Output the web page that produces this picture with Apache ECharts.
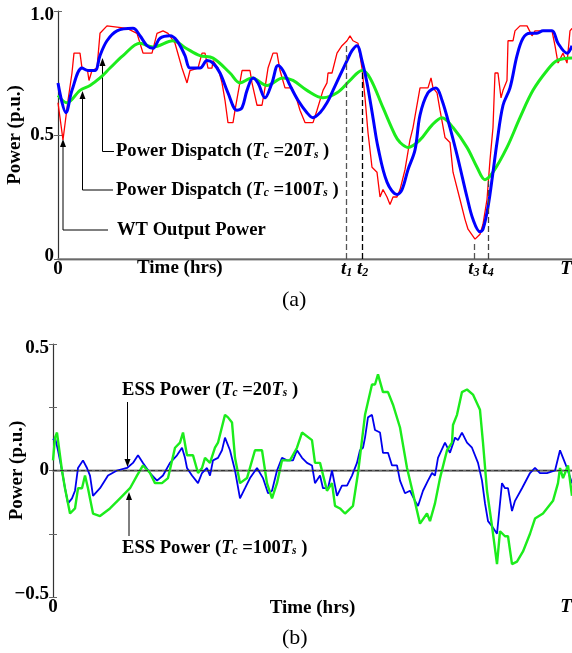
<!DOCTYPE html>
<html>
<head>
<meta charset="utf-8">
<script src="https://cdn.jsdelivr.net/npm/echarts@6/dist/echarts.min.js"></script>
<style>
  html, body { margin: 0; padding: 0; background: #fff; }
  #chart { width: 572px; height: 653px; }
</style>
</head>
<body>
<div id="chart"></div>
<script>
// panel (a): WT output power and the two dispatch curves (time in % of T)
const wtTime = [0, 0.97, 1.95, 2.72, 3.11, 4.28, 4.67, 5.74, 6.03, 6.61,
  7.59, 8.17, 9.53, 13.42, 15.37, 16.54, 18.29, 19.26, 20.43, 21.4,
  22.76, 24.12, 25.1, 25.68, 27.24, 28.02, 28.6, 29.18, 29.96, 30.16,
  31.13, 31.91, 32.49, 33.07, 34.05, 34.44, 35.8, 37.35, 37.74, 38.72,
  39.69, 40.27, 40.86, 41.83, 42.61, 43.19, 44.16, 45.53, 46.5, 47.08,
  48.05, 49.61, 50.39, 51.56, 52.33, 52.53, 53.31, 54.28, 55.25, 56.23,
  56.81, 57.39, 58.37, 59.14, 59.73, 60.31, 61.09, 62.06, 62.65, 63.23,
  64.01, 64.59, 65.18, 65.95, 66.54, 67.51, 68.48, 69.07, 70.43, 71.98,
  72.57, 72.96, 73.74, 74.32, 75.29, 76.26, 76.85, 78.21, 79.18, 79.77,
  81.13, 82.1, 82.68, 83.46, 84.05, 84.63, 85.02, 85.6, 86.19, 86.58,
  87.35, 87.55, 88.52, 88.91, 89.88, 91.25, 92.22, 92.8, 94.36, 96.11,
  96.69, 97.28, 98.25, 99.03, 99.61, 100];
const wtPower = [0.63, 0.48, 0.64, 0.75, 0.83, 0.83, 0.77, 0.76, 0.72, 0.76,
  0.77, 0.91, 0.94, 0.93, 0.91, 0.83, 0.83, 0.91, 0.92, 0.91,
  0.87, 0.77, 0.71, 0.76, 0.77, 0.83, 0.83, 0.77, 0.77, 0.80,
  0.77, 0.71, 0.64, 0.55, 0.55, 0.60, 0.76, 0.76, 0.71, 0.62,
  0.62, 0.69, 0.77, 0.83, 0.83, 0.76, 0.69, 0.69, 0.64, 0.60,
  0.55, 0.55, 0.60, 0.68, 0.71, 0.75, 0.75, 0.83, 0.86, 0.88,
  0.90, 0.88, 0.87, 0.77, 0.65, 0.51, 0.37, 0.35, 0.25, 0.28,
  0.25, 0.22, 0.25, 0.25, 0.28, 0.36, 0.48, 0.53, 0.69, 0.69,
  0.73, 0.69, 0.67, 0.60, 0.49, 0.47, 0.35, 0.24, 0.16, 0.12,
  0.08, 0.10, 0.14, 0.24, 0.40, 0.53, 0.75, 0.75, 0.65, 0.68,
  0.72, 0.88, 0.88, 0.92, 0.94, 0.94, 0.90, 0.92, 0.92, 0.92,
  0.86, 0.79, 0.83, 0.79, 0.92, 0.93];

const disp20Time = [0, 1.56, 2.72, 4.67, 5.84, 7.2, 8.17, 9.53, 11.48, 14.59,
  15.95, 17.32, 18.48, 19.84, 21.79, 23.15, 24.71, 25.68, 27.63, 28.99,
  30.16, 31.52, 33.07, 34.82, 35.8, 36.77, 37.94, 38.91, 40.27, 41.63,
  42.8, 43.77, 45.14, 46.69, 48.44, 49.61, 50.97, 52.33, 53.5, 54.86,
  56.23, 57.2, 58.17, 59.14, 60.12, 61.28, 62.26, 64.01, 65.95,
  66.93, 68.09, 69.46, 70.43, 71.98, 73.54, 74.71, 76.26, 77.63, 78.21,
  79.57, 80.74, 82.1, 82.68, 83.66, 84.63, 85.41, 86.58, 87.94, 89.3,
  90.47, 91.83, 93.19, 94.36, 96.11, 97.28, 99.03, 100];
const disp20Power = [0.71, 0.59, 0.68, 0.77, 0.76, 0.76, 0.82, 0.88, 0.92, 0.93,
  0.90, 0.86, 0.85, 0.89, 0.90, 0.88, 0.82, 0.77, 0.77, 0.80,
  0.79, 0.75, 0.67, 0.60, 0.61, 0.68, 0.73, 0.71, 0.65, 0.71,
  0.78, 0.76, 0.70, 0.64, 0.59, 0.57, 0.59, 0.63, 0.68, 0.74,
  0.80, 0.84, 0.86, 0.80, 0.71, 0.57, 0.45, 0.31, 0.26,
  0.28, 0.36, 0.44, 0.58, 0.67, 0.69, 0.64, 0.53, 0.42, 0.37,
  0.25, 0.16, 0.11, 0.12, 0.21, 0.35, 0.47, 0.62, 0.69, 0.82,
  0.89, 0.91, 0.91, 0.92, 0.92, 0.87, 0.83, 0.86];

const disp100Time = [0, 1.75, 4.28, 6.23, 8.17, 10.12, 12.65, 15.95, 18.48, 22.37,
  24.9, 27.63, 30.16, 33.46, 35.41, 37.74, 40.66, 43.77, 45.72, 48.44,
  51.56, 54.28, 56.81, 59.14, 60.7, 63.23, 65.56, 66.54, 68.09, 70.43,
  72.76, 74.71, 76.85, 79.57, 81.52, 83.07, 84.63, 87.35, 89.88, 92.41,
  95.14, 97.08, 100];
const disp100Power = [0.66, 0.63, 0.68, 0.70, 0.73, 0.77, 0.82, 0.87, 0.855, 0.88,
  0.85, 0.82, 0.81, 0.75, 0.71, 0.73, 0.70, 0.73, 0.72, 0.68,
  0.65, 0.67, 0.72, 0.76, 0.73, 0.61, 0.50, 0.47, 0.45, 0.48,
  0.54, 0.57, 0.53, 0.45, 0.37, 0.32, 0.35, 0.45, 0.57, 0.68,
  0.76, 0.80, 0.81];

// instants t1..t4 and how high their dashed guides reach
const tMarkTimes = [56.17, 59.28, 80.93, 83.66];
const tMarkTops = [0.87, 0.75, 0.07, 0.32];
const tMarkNames = ['t1', 't2', 't3', 't4'];
const tMarkColors = ['#555', '#000', '#555', '#444'];

// panel (b): ESS power
const ess20Time = [0, 0.39, 0.96, 1.73, 2.31, 2.89, 3.66, 4.24, 4.82, 5.78,
  6.55, 7.13, 7.71, 9.06, 10.6, 12.33, 14.26, 15.41, 16.38, 17.34,
  18.69, 20.04, 21.19, 22.54, 23.89, 24.86, 25.43, 25.82, 26.78, 27.94,
  28.71, 29.67, 30.25, 30.83, 31.79, 32.56, 33.14, 34.1, 35.07, 36.03,
  37.0, 37.96, 39.31, 40.46, 41.43, 42.2, 43.16, 44.12, 45.09, 46.24,
  47.01, 47.98, 48.94, 49.9, 50.48, 51.45, 52.02, 52.99, 53.76, 54.72,
  55.68, 56.65, 57.61, 58.57, 59.15, 59.73, 60.12, 60.69, 61.46, 62.04,
  63.01, 63.58, 64.55, 65.32, 66.28, 66.86, 67.82, 68.79, 69.75, 70.33,
  71.29, 72.25, 73.03, 73.6, 74.18, 75.53, 76.49, 77.46, 78.03, 78.8,
  79.77, 80.73, 81.89, 82.66, 83.24, 83.82, 84.59, 85.55, 86.51, 87.09,
  87.67, 88.44, 89.02, 90.37, 91.91, 92.87, 93.83, 95.18, 96.73, 97.69,
  98.27, 99.04, 100];
const ess20 = [0.12, 0.13, 0.08, 0.0, -0.07, -0.13, -0.11, -0.08, 0.01, 0.04,
  0.01, -0.02, -0.10, -0.07, -0.02, 0, 0.01, 0.03, 0.06, 0.03,
  -0.01, -0.04, -0.02, 0.03, 0.06, 0.09, 0.05, 0.01, -0.02, -0.05,
  -0.01, 0.01, -0.02, 0.04, 0.05, 0.08, 0.13, 0.08, 0, -0.11,
  -0.07, -0.03, 0.01, -0.03, -0.09, -0.08, 0, 0.05, 0.04, 0.04,
  0.08, 0.05, 0.03, 0.02, -0.05, -0.02, -0.07, -0.07, 0, -0.10,
  -0.06, -0.06, -0.02, 0.03, 0.08, 0.09, 0.13, 0.21, 0.22, 0.16,
  0.15, 0.07, 0.07, 0.02, 0.02, -0.04, -0.09, -0.08, -0.12, -0.14,
  -0.08, -0.04, -0.01, -0.02, 0.05, 0.11, 0.07, 0.13, 0.12, 0.15,
  0.11, 0.09, 0.03, -0.04, -0.13, -0.20, -0.22, -0.25, -0.05, -0.07,
  -0.07, -0.16, -0.12, -0.07, -0.01, 0.01, -0.01, -0.01, 0, 0.08,
  0.05, 0.01, -0.05];

const ess100Time = [0, 0.39, 0.77, 1.73, 2.31, 3.28, 4.24, 4.82, 5.59, 6.17,
  6.74, 7.71, 9.06, 10.98, 12.91, 14.84, 16.18, 17.34, 18.69, 19.65,
  21.0, 22.16, 23.51, 24.47, 25.05, 25.82, 26.98, 27.94, 28.71, 29.29,
  30.25, 31.21, 31.79, 33.14, 33.72, 34.49, 35.07, 36.03, 37.38, 38.92,
  40.27, 41.23, 42.2, 43.16, 44.12, 45.66, 47.01, 47.98, 49.9, 50.48,
  51.45, 52.79, 53.76, 54.34, 55.3, 56.26, 57.8, 58.77, 60.12, 61.46,
  62.04, 62.62, 63.58, 64.55, 65.51, 66.86, 68.21, 69.36, 70.71, 72.06,
  72.64, 73.6, 74.57, 75.92, 76.88, 77.07, 77.84, 78.8, 79.77, 80.92,
  82.27, 82.85, 83.62, 84.59, 85.55, 86.13, 87.09, 87.67, 88.44, 89.4,
  90.56, 91.91, 92.87, 94.41, 96.34, 97.3, 97.69, 98.27, 99.23, 100];
const ess100 = [0.04, 0.13, 0.15, 0.0, -0.07, -0.17, -0.15, -0.07, -0.07, -0.02,
  -0.07, -0.17, -0.18, -0.15, -0.11, -0.07, -0.02, 0.02, -0.01, -0.05,
  -0.05, -0.03, 0.09, 0.11, 0.15, 0.06, 0.06, -0.01, 0.01, 0.05,
  0.03, 0.09, 0.11, 0.22, 0.21, 0.19, 0.05, -0.05, -0.03, 0.08,
  0.08, -0.05, -0.11, -0.05, 0.04, 0.04, 0.09, 0.15, 0.12, 0.03,
  0.03, -0.08, -0.05, -0.14, -0.15, -0.17, -0.14, -0.01, 0.22, 0.34,
  0.34, 0.38, 0.31, 0.31, 0.26, 0.17, 0.01, -0.09, -0.21, -0.17,
  -0.20, -0.13, -0.03, 0.08, 0.11, 0.18, 0.22, 0.31, 0.32, 0.30,
  0.24, 0.11, -0.08, -0.22, -0.37, -0.24, -0.26, -0.26, -0.37, -0.36,
  -0.32, -0.25, -0.19, -0.17, -0.12, -0.05, 0.01, -0.03, 0.02, -0.10];

const xTicksA = [0].concat(tMarkTimes, [100]);
const xNamesA = ['0'].concat(tMarkNames, ['T']);
const xTicksB = [0, 100];
const xNamesB = ['0', 'T'];

const SERIF = '"Liberation Serif", "Times New Roman", serif';
const txt = { fontFamily: SERIF, fontWeight: 'bold', color: '#000' };
const rich = {
  n: Object.assign({}, txt, { fontSize: 19 }),
  i: Object.assign({}, txt, { fontSize: 19, fontStyle: 'italic' }),
  s: Object.assign({}, txt, { fontSize: 12, fontStyle: 'italic', verticalAlign: 'bottom', lineHeight: 10 }),
  top: Object.assign({}, txt, { fontSize: 19, padding: [9, 0, 0, 0] }),
  bot: Object.assign({}, txt, { fontSize: 19, padding: [0, 0, 6, 0] }),
  end: Object.assign({}, txt, { fontSize: 19, fontStyle: 'italic', padding: [0, 12, 0, 0] })
};

function pairs(xs, ys) { return xs.map((x, i) => [x, ys[i]]); }

function xLabel(ticks, names) {
  return function (v) {
    const k = ticks.findIndex(t => Math.abs(t - v) < 1e-6);
    const s = k < 0 ? '' : names[k];
    if (/^t\d$/.test(s)) return '{i|t}{s|' + s[1] + '}';
    if (s === 'T') return '{end|T}';
    return '{n|' + s + '}';
  };
}

function bottomAxis(grid, ticks, names) {
  return {
    type: 'value', gridIndex: grid, min: 0, max: 100, position: 'bottom',
    axisLine: { lineStyle: { color: '#111', width: 1.3 } },
    axisTick: { show: false },
    splitLine: { show: false },
    axisLabel: { customValues: ticks, margin: 1, formatter: xLabel(ticks, names), rich: rich }
  };
}
function topAxis(grid) {
  return {
    type: 'value', gridIndex: grid, min: 0, max: 100, position: 'top',
    axisLine: { lineStyle: { color: '#888', width: 1.5 } },
    axisTick: { show: false }, axisLabel: { show: false }, splitLine: { show: false }
  };
}
function sideAxis(grid, min, max, step, pos, labelFn, name, gap) {
  return {
    type: 'value', gridIndex: grid, min: min, max: max, interval: step, position: pos,
    name: name, nameLocation: 'middle', nameGap: gap, nameMoveOverlap: false,
    nameTextStyle: Object.assign({}, txt, { fontSize: 19 }),
    axisLine: { show: pos === 'left', lineStyle: { color: '#333', width: 1.2 } },
    axisTick: { show: true, inside: true, length: 4, lineStyle: { color: '#666' } },
    splitLine: { show: false },
    axisLabel: { show: !!labelFn, margin: 4, formatter: labelFn, rich: rich }
  };
}

function yLabelA(v) {
  if (v === 1) return '{top|1.0}';
  if (v === 0) return '{bot|0}';
  return '{n|' + v + '}';
}
function yLabelB(v) {
  if (v === 0.5) return '{top|0.5}';
  if (v === -0.5) return '{bot|\u22120.5}';
  if (v === 0) return '{n|0}';
  return '';
}

function arrow(pts, tip, dir) {
  const [x, y] = tip;
  const d = dir === 'up' ? 8 : -8;
  return [
    { type: 'polyline', shape: { points: pts }, style: { stroke: '#000', lineWidth: 1, fill: null }, silent: true },
    { type: 'polygon', shape: { points: [[x, y], [x - 3, y + d], [x + 3, y + d]] }, style: { fill: '#000' }, silent: true }
  ];
}
function note(x, y, str) {
  return { type: 'text', x: x, y: y, silent: true,
    style: { text: str, rich: {
      n: Object.assign({}, txt, { fontSize: 18.6, fill: '#000' }),
      i: Object.assign({}, txt, { fontSize: 18.6, fontStyle: 'italic', fill: '#000' }),
      s: Object.assign({}, txt, { fontSize: 11.5, fontStyle: 'italic', fill: '#000', verticalAlign: 'bottom', lineHeight: 9 })
    }, verticalAlign: 'middle' } };
}

const chart = echarts.init(document.getElementById('chart'));
chart.setOption({
  animation: false,
  backgroundColor: '#fff',
  title: [
    { text: '(a)', left: 277, top: 284, textStyle: { fontFamily: SERIF, fontWeight: 'normal', fontSize: 22, color: '#000' } },
    { text: '(b)', left: 277, top: 622, textStyle: { fontFamily: SERIF, fontWeight: 'normal', fontSize: 22, color: '#000' } }
  ],
  grid: [
    { left: 58, top: 11, right: 0, height: 248, containLabel: false, outerBoundsMode: 'none' },
    { left: 53, top: 344, right: 0, height: 253, containLabel: false, outerBoundsMode: 'none' }
  ],
  xAxis: [
    bottomAxis(0, xTicksA, xNamesA),
    topAxis(0),
    Object.assign(bottomAxis(1, xTicksB, xNamesB), {
      name: 'Time (hrs)', nameLocation: 'middle', nameGap: 2, nameMoveOverlap: false,
      nameTextStyle: Object.assign({}, txt, { fontSize: 19, verticalAlign: 'top' })
    }),
    topAxis(1)
  ],
  yAxis: [
    sideAxis(0, 0, 1, 0.5, 'left', yLabelA, 'Power (p.u.)', 33),
    sideAxis(0, 0, 1, 0.5, 'right', null, '', 0),
    sideAxis(1, -0.5, 0.5, 0.25, 'left', yLabelB, 'Power (p.u.)', 26),
    sideAxis(1, -0.5, 0.5, 0.25, 'right', null, '', 0)
  ],
  series: [
    {
      name: 'WT Output Power', type: 'line', xAxisIndex: 0, yAxisIndex: 0,
      data: pairs(wtTime, wtPower), symbol: 'none',
      lineStyle: { color: '#ff0000', width: 1.3 },
      markLine: {
        silent: true, symbol: ['none', 'none'], label: { show: false },
        data: tMarkTimes.map((t, i) => [
          { coord: [t, 0], lineStyle: { color: tMarkColors[i], type: [6, 3], width: 1.3 } },
          { coord: [t, tMarkTops[i]] }
        ])
      }
    },
    {
      name: 'Power Dispatch (Tc=100Ts)', type: 'line', xAxisIndex: 0, yAxisIndex: 0,
      data: pairs(disp100Time, disp100Power), symbol: 'none', smooth: 0.35,
      lineStyle: { color: '#1cec1c', width: 3 }
    },
    {
      name: 'Power Dispatch (Tc=20Ts)', type: 'line', xAxisIndex: 0, yAxisIndex: 0,
      data: pairs(disp20Time, disp20Power), symbol: 'none', smooth: 0.35,
      lineStyle: { color: '#0000ff', width: 3 }
    },
    {
      name: 'ESS Power (Tc=20Ts)', type: 'line', xAxisIndex: 2, yAxisIndex: 2,
      data: pairs(ess20Time, ess20), symbol: 'none',
      lineStyle: { color: '#0000ee', width: 1.8 },
      markLine: {
        silent: true, symbol: ['none', 'none'], label: { show: false },
        lineStyle: { color: '#333', type: [4, 3], width: 1 },
        data: [{ yAxis: 0 }]
      }
    },
    {
      name: 'ESS Power (Tc=100Ts)', type: 'line', xAxisIndex: 2, yAxisIndex: 2,
      data: pairs(ess100Time, ess100), symbol: 'none',
      lineStyle: { color: '#1cec1c', width: 2.4 }
    }
  ],
  graphic: [
    { type: 'text', x: 137, y: 259, silent: true,
      style: Object.assign({ text: 'Time (hrs)', fontSize: 19, fill: '#000' }, txt) },
    ...arrow([[102.5, 62], [102.5, 151.5], [114, 151.5]], [102.5, 58], 'up'),
    ...arrow([[82.5, 95], [82.5, 190], [113, 190]], [82.5, 91], 'up'),
    ...arrow([[63, 143], [63, 230], [108, 230]], [63, 139], 'up'),
    note(116, 151.5, '{n|Power Dispatch (}{i|T}{s|c}{n| =20}{i|T}{s|s}{n| )}'),
    note(116, 190, '{n|Power Dispatch (}{i|T}{s|c}{n| =100}{i|T}{s|s}{n| )}'),
    note(117, 230, '{n|WT Output Power}'),
    note(122, 390, '{n|ESS Power (}{i|T}{s|c}{n| =20}{i|T}{s|s}{n| )}'),
    ...arrow([[127.5, 402], [127.5, 461]], [127.5, 467], 'down'),
    note(122, 548, '{n|ESS Power (}{i|T}{s|c}{n| =100}{i|T}{s|s}{n| )}'),
    ...arrow([[129, 536], [129, 498]], [129, 492], 'up')
  ]
});
</script>
</body>
</html>
